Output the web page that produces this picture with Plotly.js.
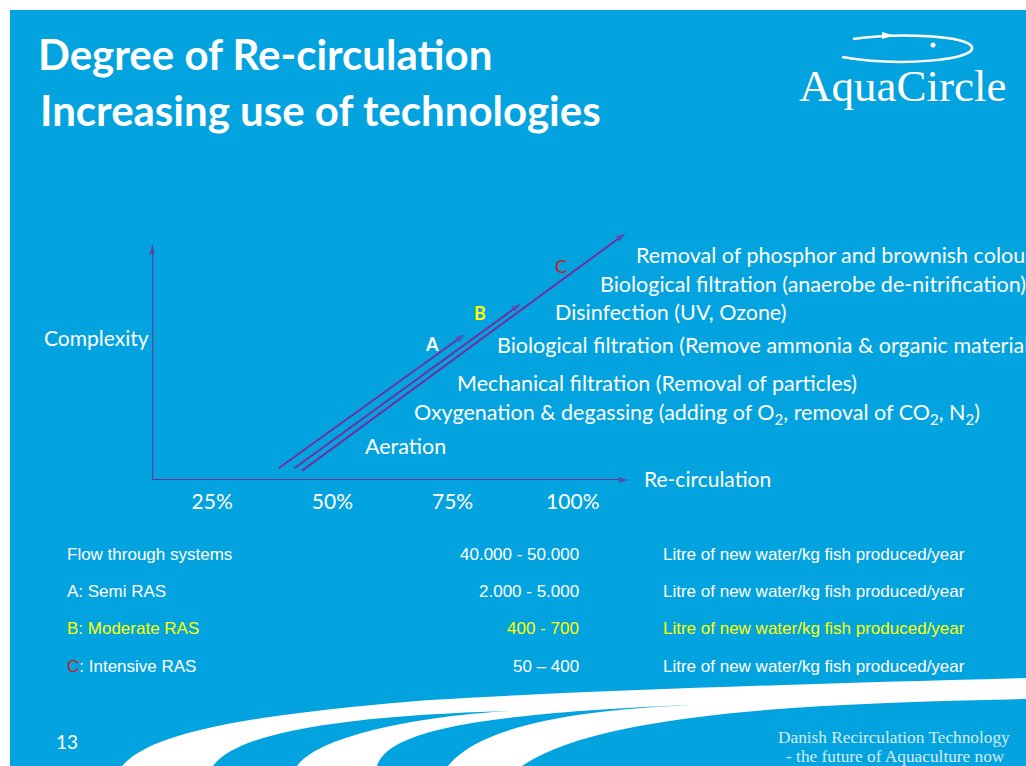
<!DOCTYPE html>
<html><head><meta charset="utf-8">
<script src="https://cdn.plot.ly/plotly-3.0.1.min.js"></script>
<style>html,body{margin:0;padding:0;background:#fff}#chart{width:1026px;height:766px}</style>
</head><body><div id="chart"></div>
<script>
// ---------- data ----------
const systems = ['A', 'B', 'C'];
const systemStartX = [38.8, 42.1, 43.7];
const systemStartY = [0.5, 0.5, 0.4];
const systemEndX = [77.6, 89.2, 111.0];
const systemEndY = [6.2, 7.5, 10.5];
const systemLabelX = [70.7, 80.7, 97.5];
const systemLabelY = [5.8, 7.1, 9.1];

const technologies = [
  'Aeration',
  'Oxygenation & degassing (adding of O<sub>2</sub>, removal of CO<sub>2</sub>, N<sub>2</sub>)',
  'Mechanical filtration (Removal of particles)',
  'Biological filtration (Remove ammonia & organic material)',
  'Disinfection (UV, Ozone)',
  'Biological filtration (anaerobe de-nitrification)',
  'Removal of phosphor and brownish colour'
];
const techX = [56.4, 66.6, 75.5, 83.8, 95.9, 105.2, 112.7];
const techY = [1.45, 2.85, 4.13, 5.74, 7.15, 8.34, 9.57];

const xTickVals = [25, 50, 75, 100];
const xTickText = ['25%', '50%', '75%', '100%'];
const axisOrigin = [12.5, 0];
const xAxisEnd = 111.5;
const yAxisEnd = 10;

const tableSystems = ['Flow through systems', 'A: Semi RAS', 'B: Moderate RAS', 'C: Intensive RAS'];
const tableRanges = ['40.000 - 50.000', '2.000 - 5.000', '400 - 700', '50 – 400'];
const tableUnits = ['Litre of new water/kg fish produced/year', 'Litre of new water/kg fish produced/year',
                    'Litre of new water/kg fish produced/year', 'Litre of new water/kg fish produced/year'];

// ---------- styles / layout ----------
const W = 1026, H = 766;
const BLUE = '#03A3DF', PURPLE = '#7030A0', WHITE = '#FFFFFF', YELLOW = '#FFFF00', RED = '#D01818';
const CAL = 'Lato, "Open Sans", sans-serif';
const ARIAL = '"Liberation Sans", Arial, sans-serif';
const SERIF = '"Liberation Serif", "DejaVu Serif", serif';
const systemColors = [WHITE, YELLOW, RED];
const px = x => x / W, py = y => 1 - y / H;
const pt = (x, y) => px(x).toFixed(5) + ',' + py(y).toFixed(5);

const traces = [];
// axes as arrows
traces.push({x: [axisOrigin[0], axisOrigin[0]], y: [axisOrigin[1], yAxisEnd]});
traces.push({x: [axisOrigin[0], xAxisEnd], y: [axisOrigin[1], axisOrigin[1]]});
systems.forEach((s, i) => traces.push({x: [systemStartX[i], systemEndX[i]], y: [systemStartY[i], systemEndY[i]], name: s}));
traces.forEach(t => Object.assign(t, {
  type: 'scatter', mode: 'lines+markers', hoverinfo: 'skip', showlegend: false, cliponaxis: false,
  line: {color: PURPLE, width: 2},
  marker: {symbol: 'arrow', size: [0, 10], angleref: 'previous', color: PURPLE, line: {width: 0}}
}));

const ann = [];
function txt(text, x, y, opts) {
  ann.push(Object.assign({text: text, x: x, y: y, xref: 'paper', yref: 'paper', showarrow: false,
    xanchor: 'left', yanchor: 'middle', font: {family: CAL, size: 21, color: WHITE}}, opts || {}));
}
// title line 2
txt('Increasing use of technologies', px(38), py(110), {font: {family: CAL, size: 42, color: WHITE, weight: 700}});
// logo
txt('AquaCircle', px(902), py(86), {xanchor: 'center', font: {family: SERIF, size: 45, color: WHITE}});
// axis names
txt('Complexity', px(42), py(337));
txt('Re-circulation', px(642), py(479));
// technologies
technologies.forEach((t, i) => ann.push({text: t, x: techX[i], y: techY[i], xref: 'x', yref: 'y', showarrow: false,
  xanchor: 'left', yanchor: 'middle', font: {family: CAL, size: 21.5, color: WHITE}}));
// system letters
systems.forEach((s, i) => ann.push({text: i < 2 ? '<b>' + s + '</b>' : s, x: systemLabelX[i], y: systemLabelY[i],
  xref: 'x', yref: 'y', showarrow: false, font: {family: CAL, size: 18, color: systemColors[i]}}));
// table
const rowY = [554, 591, 628, 666];
tableSystems.forEach((s, i) => {
  const col = i === 2 ? YELLOW : WHITE;
  let label = s;
  if (i === 3) label = '<span style="color:' + RED + '">' + s.slice(0, 1) + '</span>' + s.slice(1);
  const f = {family: ARIAL, size: 17, color: col};
  txt(label, px(65), py(rowY[i]), {font: f});
  txt(tableRanges[i], px(581), py(rowY[i]), {xanchor: 'right', font: f});
  txt(tableUnits[i], px(967), py(rowY[i]), {xanchor: 'right', font: f});
});
// footer
txt('13', px(67), py(741), {xanchor: 'center', font: {family: CAL, size: 19, color: WHITE}});
txt('Danish Recirculation Technology', px(894), py(737), {xanchor: 'center', font: {family: SERIF, size: 17.3, color: '#D3ECF8'}});
txt('- the future of Aquaculture now', px(895), py(756), {xanchor: 'center', font: {family: SERIF, size: 17.3, color: '#D3ECF8'}});

const shapes = [
  {type: 'rect', xref: 'paper', yref: 'paper', x0: px(10), x1: 1, y0: 0, y1: py(10), fillcolor: BLUE, line: {width: 0}, layer: 'below'},
  {type: 'path', xref: 'paper', yref: 'paper', layer: 'below', fillcolor: WHITE, line: {width: 0},
   path: 'M' + pt(122, 766) + ' C' + pt(150, 735) + ' ' + pt(230, 716) + ' ' + pt(430, 700) +
         ' C' + pt(600, 690) + ' ' + pt(800, 684) + ' ' + pt(1026, 678) + ' L' + pt(1026, 699) +
         ' C' + pt(820, 703) + ' ' + pt(600, 712) + ' ' + pt(522, 766) + ' Z'},
  {type: 'path', xref: 'paper', yref: 'paper', layer: 'below', fillcolor: BLUE, line: {width: 0},
   path: 'M' + pt(213, 766) + ' C' + pt(235, 735) + ' ' + pt(330, 716) + ' ' + pt(510, 711) +
         ' C' + pt(420, 716) + ' ' + pt(320, 735) + ' ' + pt(297, 766) + ' Z'},
  {type: 'path', xref: 'paper', yref: 'paper', layer: 'below', fillcolor: BLUE, line: {width: 0},
   path: 'M' + pt(377, 766) + ' C' + pt(388, 732) + ' ' + pt(470, 714) + ' ' + pt(690, 705) +
         ' C' + pt(580, 710) + ' ' + pt(480, 725) + ' ' + pt(448, 766) + ' Z'},
  // logo swoosh
  {type: 'path', xref: 'paper', yref: 'paper', line: {color: WHITE, width: 2.5},
   path: 'M' + pt(853, 39) + ' C' + pt(900, 32) + ' ' + pt(968, 36) + ' ' + pt(972, 47) +
         ' C' + pt(976, 60) + ' ' + pt(900, 67) + ' ' + pt(842, 57)},
  {type: 'path', xref: 'paper', yref: 'paper', fillcolor: WHITE, line: {width: 0},
   path: 'M' + pt(882, 32) + ' L' + pt(894, 35.5) + ' L' + pt(882, 39) + ' Z'},
  {type: 'circle', xref: 'paper', yref: 'paper', fillcolor: WHITE, line: {width: 0},
   x0: px(930.5), x1: px(935.5), y0: py(47.5), y1: py(42.5)}
];

const layout = {
  width: W, height: H, margin: {l: 0, r: 0, t: 0, b: 0},
  paper_bgcolor: WHITE, plot_bgcolor: 'rgba(0,0,0,0)',
  title: {text: 'Degree of Re-circulation', xref: 'container', yref: 'container', x: px(38), xanchor: 'left',
          y: py(55), yanchor: 'middle', font: {family: CAL, size: 42, color: WHITE, weight: 700}},
  xaxis: {range: [12.5, 115], domain: [px(152.1), px(644.9)], showgrid: false, zeroline: false, showline: false,
          tickvals: xTickVals, ticktext: xTickText, ticks: '', ticklabelstandoff: 7,
          tickfont: {family: CAL, size: 21, color: WHITE}, fixedrange: true},
  yaxis: {range: [0, 11], domain: [py(480), py(221.5)], showgrid: false, zeroline: false, showline: false,
          showticklabels: false, fixedrange: true},
  annotations: ann, shapes: shapes, showlegend: false
};
Plotly.newPlot('chart', traces, layout, {displayModeBar: false, staticPlot: true});
</script></body></html>
